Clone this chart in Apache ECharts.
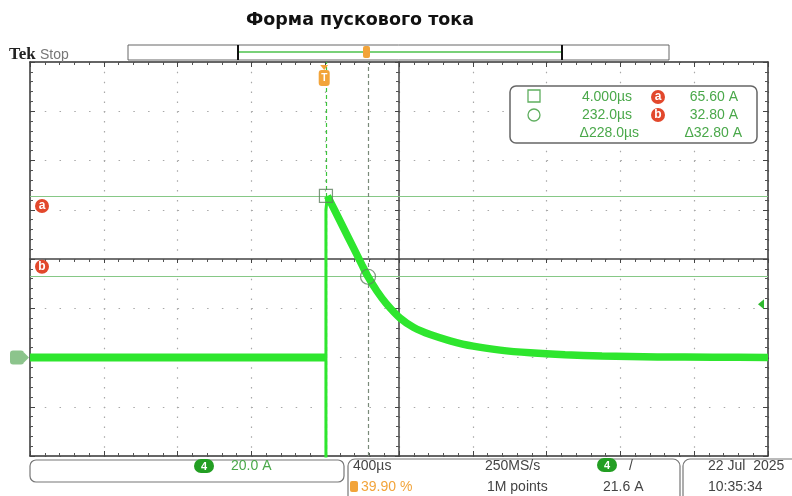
<!DOCTYPE html>
<html><head><meta charset="utf-8">
<script src="https://cdn.jsdelivr.net/npm/echarts@6/dist/echarts.min.js"></script>
<style>html,body{margin:0;padding:0;background:#fff}#c{width:792px;height:496px}</style>
</head><body><div id="c"></div>
<script>
// ---- data ----
const titleText = 'Форма пускового тока';
const baseT = [-1600, 2];
const baseA = [0, 0];
const spikeT = [4, 4, 12];
const spikeA = [-45, 60, 65.6];
const decayT = [12, 50, 100, 150, 200, 232, 280, 330, 406, 480, 569, 677, 802, 948, 1111, 1300, 1500, 1800, 2100, 2400];
const decayA = [65.6, 60, 52.5, 45, 37.5, 32.8, 27.0, 22.0, 16.0, 12.2, 9.3, 6.8, 4.6, 3.0, 1.9, 1.1, 0.6, 0.25, 0.1, 0];
const cursorTimes = [4.0, 232.0];      // µs
const cursorLevels = [65.60, 32.80];   // A
const triggerLevel = 21.6;             // A
const timeDiv = 400, ampDiv = 20;
const xMin = -1600, xMax = 2400, yMin = -40, yMax = 120;
const infoScale = '20.0 A', infoTime = '400µs', infoTrigPos = '39.90 %', infoRate = '250MS/s', infoPts = '1M points', infoDate = '22 Jul  2025', infoClock = '10:35:34';

const pairs = (t, a) => t.map((v, i) => [v, a[i]]);
const FONT = "'Liberation Sans','Arimo',sans-serif";
const TRACE = '#2ee62e';
const GTXT = '#4aa84a';
const chart = echarts.init(document.getElementById('c'));

const frameAxis = (extra) => Object.assign({
  type: 'value', axisLabel: {show: false},
  axisLine: {onZero: false, lineStyle: {color: '#333', width: 1.5}},
  axisTick: {show: true, inside: true, length: 5, lineStyle: {color: '#444'}},
  minorTick: {show: true, splitNumber: 5, length: 3, lineStyle: {color: '#555'}},
  splitLine: {show: false}
}, extra);

chart.setOption({
  animation: false,
  grid: {left: 30, top: 62, width: 738, height: 394, containLabel: false},
  title: {text: titleText, left: 355, top: 6, textAlign: 'center',
    textStyle: {fontFamily: "'DejaVu Sans',sans-serif", fontWeight: 'bold', fontSize: 17.5, color: '#111'}},
  xAxis: [
    frameAxis({min: xMin, max: xMax, interval: timeDiv, position: 'bottom',
      splitLine: {show: true, lineStyle: {color: '#a8a8a8', width: 1.2, type: [1.5, 8.35]}}}),
    frameAxis({min: xMin, max: xMax, interval: timeDiv, position: 'top'}),
    frameAxis({min: -2000, max: 2000, interval: timeDiv, position: 'bottom',
      axisLine: {onZero: true, onZeroAxisIndex: 2, lineStyle: {color: '#444', width: 1.5}},
      axisTick: {show: true, inside: false, length: 4, lineStyle: {color: '#444'}}})
  ],
  yAxis: [
    frameAxis({min: yMin, max: yMax, interval: ampDiv, position: 'left',
      splitLine: {show: true, lineStyle: {color: '#a8a8a8', width: 1.2, type: [1.5, 13.26]}}}),
    frameAxis({min: yMin, max: yMax, interval: ampDiv, position: 'right'}),
    frameAxis({min: -80, max: 80, interval: ampDiv, position: 'left',
      axisLine: {onZero: true, onZeroAxisIndex: 2, lineStyle: {color: '#444', width: 1.5}},
      axisTick: {show: true, inside: false, length: 4, lineStyle: {color: '#444'}}})
  ],
  series: [
    {type: 'line', name: 'base', data: pairs(baseT, baseA), showSymbol: false, clip: true,
      lineStyle: {color: TRACE, width: 8}, z: 5,
      markLine: {silent: true, symbol: 'none', label: {show: false}, animation: false,
        data: [
          {yAxis: cursorLevels[0], lineStyle: {color: '#86c886', width: 1.2, type: 'solid'}},
          {yAxis: cursorLevels[1], lineStyle: {color: '#86c886', width: 1.2, type: 'solid'}},
          {xAxis: cursorTimes[0], lineStyle: {color: '#3cc43c', width: 1.2, type: [4, 3]}},
          {xAxis: cursorTimes[1], lineStyle: {color: '#7a8a7a', width: 1.2, type: [4, 3]}}
        ]}},
    {type: 'line', name: 'spike', data: pairs(spikeT, spikeA), showSymbol: false, clip: true,
      lineStyle: {color: TRACE, width: 3}, z: 5},
    {type: 'line', name: 'decay', data: pairs(decayT, decayA), showSymbol: false, clip: true,
      smooth: 0.25, lineStyle: {color: TRACE, width: 7.5}, z: 5},
    {type: 'scatter', name: 'c1', data: [[cursorTimes[0], cursorLevels[0]]], symbol: 'rect', symbolSize: 13,
      itemStyle: {color: 'rgba(0,0,0,0)', borderColor: '#5f7f5f', borderWidth: 1.2}, z: 6, silent: true},
    {type: 'scatter', name: 'c2', data: [[cursorTimes[1], cursorLevels[1]]], symbol: 'circle', symbolSize: 15,
      itemStyle: {color: 'rgba(0,0,0,0)', borderColor: '#5f7f5f', borderWidth: 1.2}, z: 6, silent: true}
  ]
});

// --- annotations (positions derived from the axes) ---
const px = (t, a) => chart.convertToPixel({xAxisIndex: 0, yAxisIndex: 0}, [t, a]);
const pGround = px(xMin, 0);
const pTrig = px(0, yMax);
const pLvl = px(xMax, triggerLevel);
const pA = px(xMin, cursorLevels[0]);
const pB = px(xMin, cursorLevels[1]);

function badge(x, y, letter) {
  return {type: 'group', x: x, y: y, children: [
    {type: 'circle', shape: {cx: 0, cy: 0, r: 7}, style: {fill: '#e2482c'}},
    {type: 'text', style: {text: letter, x: 0, y: 0, align: 'center', verticalAlign: 'middle',
      fill: '#fff', font: "bold 12px 'Liberation Sans',sans-serif"}}
  ]};
}
function pill(x, y) {
  return {type: 'group', x: x, y: y, children: [
    {type: 'rect', shape: {x: -10, y: -7, width: 20, height: 14, r: 7}, style: {fill: '#239e23'}},
    {type: 'text', style: {text: '4', x: 0, y: 0.5, align: 'center', verticalAlign: 'middle',
      fill: '#fff', font: "bold 11px 'Liberation Sans',sans-serif"}}
  ]};
}
const txt = (x, y, s, fill, align, size, weight) => ({type: 'text', style: {text: s, x: x, y: y,
  align: align || 'left', verticalAlign: 'middle', fill: fill, font: (weight || 'normal') + ' ' + (size || 14) + 'px ' + FONT}});

const fmtT = v => v.toFixed(v < 10 ? 3 : 1) + 'µs';
const fmtA = v => v.toFixed(2) + ' A';
const dT = cursorTimes[1] - cursorTimes[0];
const dA = Math.abs(cursorLevels[0] - cursorLevels[1]);

const g = [
  // Tek Stop
  {type: 'text', style: {text: 'Tek', x: 9, y: 55, verticalAlign: 'middle', fill: '#222', font: "bold 17px 'Liberation Serif',serif"}},
  txt(40, 55, 'Stop', '#777', 'left', 14),
  // record bar
  {type: 'rect', shape: {x: 128, y: 45, width: 541, height: 15}, style: {fill: '#fff', stroke: '#666', lineWidth: 1}},
  {type: 'line', shape: {x1: 238, y1: 52, x2: 561, y2: 52}, style: {stroke: '#4cc24c', lineWidth: 1.5}},
  {type: 'line', shape: {x1: 238, y1: 45, x2: 238, y2: 60}, style: {stroke: '#111', lineWidth: 2}},
  {type: 'line', shape: {x1: 562, y1: 45, x2: 562, y2: 60}, style: {stroke: '#111', lineWidth: 2}},
  {type: 'rect', shape: {x: 363, y: 46, width: 7, height: 12, r: 2}, style: {fill: '#f2a43a'}},
  // trigger T marker
  {type: 'group', x: pTrig[0] - 1, y: pTrig[1] + 3, children: [
    {type: 'polygon', shape: {points: [[-4, 0], [4, 0], [0, 5]]}, style: {fill: '#f2a43a'}},
    {type: 'rect', shape: {x: -5.5, y: 5, width: 11, height: 16, r: 3}, style: {fill: '#f2a43a'}},
    {type: 'text', style: {text: 'T', x: 0, y: 13.5, align: 'center', verticalAlign: 'middle', fill: '#fff', font: "bold 10px 'Liberation Sans',sans-serif"}}
  ]},
  // cursor badges on left
  badge(pA[0] + 12, pA[1] + 10, 'a'),
  badge(pB[0] + 12, pB[1] - 10, 'b'),
  // ground marker
  {type: 'group', x: pGround[0] - 14, y: pGround[1], children: [
    {type: 'rect', shape: {x: -6, y: -7, width: 14, height: 14, r: 3}, style: {fill: '#8cc48c'}},
    {type: 'polygon', shape: {points: [[8, -5], [13, 0], [8, 5]]}, style: {fill: '#8cc48c'}}
  ]},
  // trigger level arrow
  {type: 'polygon', shape: {points: [[pLvl[0] - 10, pLvl[1]], [pLvl[0] - 4, pLvl[1] - 5], [pLvl[0] - 4, pLvl[1] + 5]]}, style: {fill: '#2eb82e'}},
  // readout box
  {type: 'rect', shape: {x: 510, y: 86, width: 247, height: 57, r: 6}, style: {fill: '#fff', stroke: '#666', lineWidth: 1.5}},
  {type: 'rect', shape: {x: 528, y: 90, width: 12, height: 12}, style: {fill: 'none', stroke: '#5fae5f', lineWidth: 1.3}},
  {type: 'circle', shape: {cx: 534, cy: 115, r: 6}, style: {fill: 'none', stroke: '#5fae5f', lineWidth: 1.3}},
  txt(632, 97, fmtT(cursorTimes[0]), GTXT, 'right'),
  txt(632, 115, fmtT(cursorTimes[1]), GTXT, 'right'),
  txt(639, 133, 'Δ' + fmtT(dT), GTXT, 'right'),
  badge(658, 97, 'a'),
  badge(658, 115, 'b'),
  txt(738, 97, fmtA(cursorLevels[0]), GTXT, 'right'),
  txt(738, 115, fmtA(cursorLevels[1]), GTXT, 'right'),
  txt(742, 133, 'Δ' + fmtA(dA), GTXT, 'right'),
  // bottom panels
  {type: 'rect', shape: {x: 30, y: 460, width: 314, height: 22, r: 6}, style: {fill: '#fff', stroke: '#777', lineWidth: 1.2}},
  pill(204, 466),
  txt(231, 466, infoScale, GTXT, 'left'),
  {type: 'rect', shape: {x: 348, y: 459, width: 332, height: 44, r: 7}, style: {fill: '#fff', stroke: '#777', lineWidth: 1.2}},
  txt(353, 466, infoTime, '#444', 'left'),
  {type: 'rect', shape: {x: 350, y: 481, width: 8, height: 11, r: 2}, style: {fill: '#f2a43a'}},
  txt(361, 487, infoTrigPos, '#f2a43a', 'left'),
  txt(485, 466, infoRate, '#444', 'left'),
  txt(487, 487, infoPts, '#444', 'left'),
  pill(607, 465),
  txt(629, 466, '/', '#444', 'left'),
  txt(603, 487, triggerLevel.toFixed(1) + ' A', '#444', 'left'),
  {type: 'rect', shape: {x: 683, y: 459, width: 125, height: 44, r: 7}, style: {fill: '#fff', stroke: '#777', lineWidth: 1.2}},
  txt(708, 466, infoDate, '#444', 'left'),
  txt(708, 487, infoClock, '#444', 'left')
];
function setZ(el, z) { el.z = z; if (el.children) el.children.forEach(c => setZ(c, z + 1)); return el; }
g.forEach((el, i) => setZ(el, 20 + i));
chart.setOption({graphic: g});
</script>
</body></html>
